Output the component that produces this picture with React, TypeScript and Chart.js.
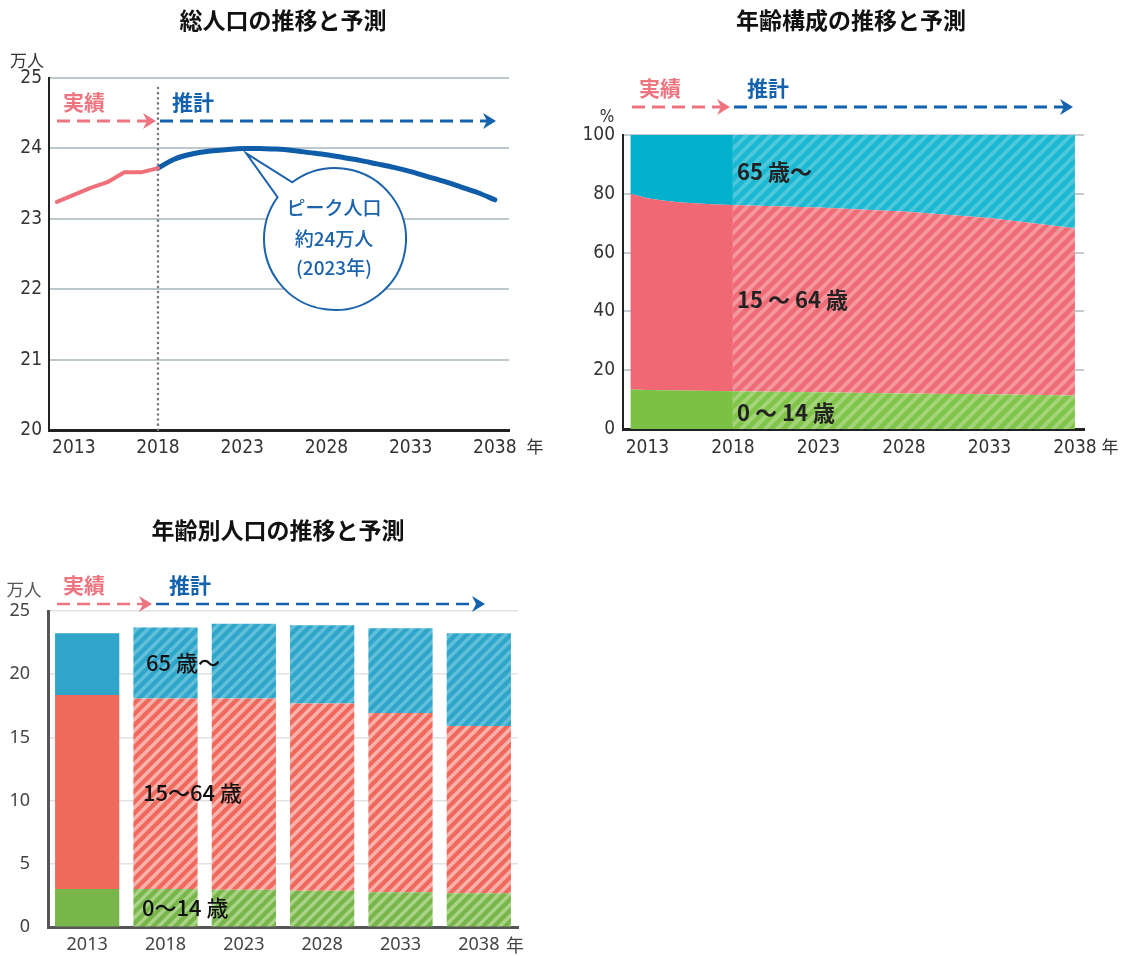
import React, { useEffect, useRef } from 'react';
import { Chart, registerables } from 'chart.js';
Chart.register(...registerables);

// ---------- Chart 1: 総人口の推移と予測 (万人) ----------
const actualYears = [2012, 2013, 2014, 2015, 2016, 2017, 2018];
const actualPop = [23.24, 23.34, 23.44, 23.52, 23.66, 23.66, 23.72];
const projYears = [2018, 2019, 2020, 2021, 2022, 2023, 2024, 2025, 2026, 2027, 2028, 2029, 2030, 2031, 2032, 2033, 2034, 2035, 2036, 2037, 2038];
const projPop = [23.72, 23.85, 23.92, 23.96, 23.98, 24.0, 24.0, 23.99, 23.97, 23.94, 23.91, 23.87, 23.83, 23.78, 23.73, 23.67, 23.6, 23.53, 23.45, 23.37, 23.27];
const tickYears = [2013, 2018, 2023, 2028, 2033, 2038];
const popTicks = [20, 21, 22, 23, 24, 25];

// ---------- Chart 2: 年齢構成の推移と予測 (%) ----------
const shareYears = [2012, 2013, 2014, 2015, 2016, 2017, 2018, 2023, 2028, 2033, 2038];
const shareChild = [13.4, 13.3, 13.2, 13.1, 13.0, 12.9, 12.8, 12.5, 12.1, 11.8, 11.4];
const shareWorking = [66.6, 65.2, 64.4, 63.9, 63.7, 63.5, 63.4, 62.8, 61.9, 60.0, 56.9];
const shareElderly = [20.0, 21.5, 22.4, 23.0, 23.3, 23.6, 23.8, 24.7, 26.0, 28.2, 31.7];

// ---------- Chart 3: 年齢別人口の推移と予測 (万人) ----------
const barYears = ['2013', '2018', '2023', '2028', '2033', '2038'];
const barChild = [3.02, 3.02, 2.97, 2.89, 2.76, 2.68];
const barWorking = [15.33, 15.07, 15.12, 14.8, 14.17, 13.22];
const barElderly = [4.89, 5.6, 5.91, 6.18, 6.7, 7.34];

const NUM = "'Liberation Sans Narrow', 'DejaVu Sans Condensed', 'Noto Sans', sans-serif";
const NUM3 = "'Noto Sans', sans-serif";
const JP = "'Noto Sans CJK JP', 'Noto Sans', sans-serif";

function makePattern(base: string, stripe: string, size = 10, lw = 3) {
  const c = document.createElement('canvas');
  c.width = size;
  c.height = size;
  const g = c.getContext('2d')!;
  g.fillStyle = base;
  g.fillRect(0, 0, size, size);
  g.strokeStyle = stripe;
  g.lineWidth = lw;
  g.beginPath();
  g.moveTo(-1, size + 1);
  g.lineTo(size + 1, -1);
  g.moveTo(-2, 2);
  g.lineTo(2, -2);
  g.moveTo(size - 2, size + 2);
  g.lineTo(size + 2, size - 2);
  g.stroke();
  return g.createPattern(c, 'repeat')!;
}

function txt(ctx: CanvasRenderingContext2D, s: string, x: number, y: number, font: string, color: string, align: CanvasTextAlign = 'center') {
  ctx.save();
  ctx.font = font;
  ctx.fillStyle = color;
  ctx.textAlign = align;
  ctx.textBaseline = 'middle';
  ctx.fillText(s, x, y);
  ctx.restore();
}

function dashedArrow(ctx: CanvasRenderingContext2D, x1: number, x2: number, y: number, color: string, lw = 3, dash = [13, 7]) {
  ctx.save();
  ctx.strokeStyle = color;
  ctx.lineWidth = lw;
  ctx.setLineDash(dash);
  ctx.beginPath();
  ctx.moveTo(x1, y);
  ctx.lineTo(x2 - 8, y);
  ctx.stroke();
  ctx.setLineDash([]);
  ctx.fillStyle = color;
  ctx.beginPath();
  ctx.moveTo(x2, y);
  ctx.lineTo(x2 - 13, y - 8);
  ctx.lineTo(x2 - 9, y);
  ctx.lineTo(x2 - 13, y + 8);
  ctx.closePath();
  ctx.fill();
  ctx.restore();
}

const C1 = { left: 0, top: 0, w: 570, h: 470 };
const C2 = { left: 570, top: 0, w: 557, h: 470 };
const C3 = { left: 0, top: 480, w: 560, h: 476 };

export default function App() {
  const r1 = useRef<HTMLCanvasElement>(null);
  const r2 = useRef<HTMLCanvasElement>(null);
  const r3 = useRef<HTMLCanvasElement>(null);

  useEffect(() => {
    const charts: Chart[] = [];

    // ----- Chart 1 -----
    const p1 = {
      id: 'p1',
      beforeDatasetsDraw(chart: any) {
        const ctx = chart.ctx as CanvasRenderingContext2D;
        const x = chart.scales.x.getPixelForValue(2018);
        ctx.save();
        ctx.strokeStyle = '#777';
        ctx.lineWidth = 2.5;
        ctx.lineCap = 'round';
        ctx.setLineDash([0.1, 5]);
        ctx.beginPath();
        ctx.moveTo(x, 88);
        ctx.lineTo(x, chart.chartArea.bottom);
        ctx.stroke();
        ctx.restore();
      },
      afterDraw(chart: any) {
        const ctx = chart.ctx as CanvasRenderingContext2D;
        txt(ctx, '総人口の推移と予測', 283, 20, `bold 23px ${JP}`, '#111');
        txt(ctx, '万人', 27, 61, `17px ${JP}`, '#333');
        txt(ctx, '年', 535, 447, `17px ${JP}`, '#333');
        txt(ctx, '実績', 84, 102, `bold 21px ${JP}`, '#ee7480');
        txt(ctx, '推計', 193, 102, `bold 21px ${JP}`, '#1462ae');
        dashedArrow(ctx, 57, 156, 121, '#ee7480');
        dashedArrow(ctx, 160, 496, 121, '#1462ae');
        // callout bubble
        const cx = 335, cy = 239, r = 71;
        const a1 = (233 * Math.PI) / 180;
        const a2 = (216 * Math.PI) / 180;
        const tipX = chart.scales.x.getPixelForValue(2023) + 4;
        const tipY = chart.scales.y.getPixelForValue(24) + 5;
        ctx.save();
        ctx.beginPath();
        ctx.arc(cx, cy, r, a1, a2 + 2 * Math.PI, false);
        ctx.lineTo(tipX, tipY);
        ctx.closePath();
        ctx.fillStyle = '#fff';
        ctx.fill();
        ctx.strokeStyle = '#1b63ad';
        ctx.lineWidth = 2;
        ctx.lineJoin = 'miter';
        ctx.stroke();
        ctx.restore();
        txt(ctx, 'ピーク人口', 334, 208, `500 19px ${JP}`, '#1b63ad');
        txt(ctx, '約24万人', 334, 239, `500 19px ${JP}`, '#1b63ad');
        txt(ctx, '(2023年)', 334, 268, `500 19px ${JP}`, '#1b63ad');
      },
    };

    charts.push(
      new Chart(r1.current!, {
        type: 'line',
        data: {
          datasets: [
            {
              data: actualYears.map((x, i) => ({ x, y: actualPop[i] })),
              borderColor: '#ef6f7b',
              borderWidth: 4,
              pointRadius: 0,
              borderCapStyle: 'round',
              borderJoinStyle: 'round',
            },
            {
              data: projYears.map((x, i) => ({ x, y: projPop[i] })),
              borderColor: '#0f5da9',
              borderWidth: 5,
              pointRadius: 0,
              cubicInterpolationMode: 'monotone',
              borderCapStyle: 'round',
            },
          ],
        },
        options: {
          responsive: false,
          animation: false,
          events: [],
          layout: { padding: { left: 0, top: 78, right: 61, bottom: 0 } },
          plugins: { legend: { display: false }, tooltip: { enabled: false } },
          scales: {
            x: {
              type: 'linear',
              min: 2011.53,
              max: 2038.84,
              grid: { display: false, drawTicks: false },
              border: { color: '#222', width: 3 },
              ticks: { font: { family: NUM, size: 19 }, color: '#333', padding: 7, maxRotation: 0, autoSkip: false, callback: (v: any) => String(v) },
              afterBuildTicks: (s: any) => {
                s.ticks = tickYears.map((v) => ({ value: v }));
              },
              afterFit: (s: any) => {
                s.height = 40;
              },
            },
            y: {
              min: 20,
              max: 25,
              grid: { color: '#bcc8cc', lineWidth: 2, drawTicks: false },
              border: { color: '#222', width: 2 },
              ticks: { font: { family: NUM, size: 19 }, color: '#333', padding: 7, stepSize: 1 },
              afterBuildTicks: (s: any) => {
                s.ticks = popTicks.map((v) => ({ value: v }));
              },
              afterFit: (s: any) => {
                s.width = 49;
              },
            },
          },
        },
        plugins: [p1],
      } as any)
    );

    // ----- Chart 2 -----
    const cyanSolid = '#03b1cd';
    const pinkSolid = '#ef6873';
    const greenSolid = '#7bc143';
    const cyanPat = makePattern('#1bb8d2', '#4dc7dc', 12, 4);
    const pinkPat = makePattern('#ef6b76', '#f4979e', 12, 4);
    const greenPat = makePattern('#80c449', '#a3d479', 12, 4);
    const seg = (pat: CanvasPattern) => ({ backgroundColor: (c: any) => (c.p0.parsed.x >= 2018 ? pat : undefined) });

    const p2 = {
      id: 'p2',
      afterDraw(chart: any) {
        const ctx = chart.ctx as CanvasRenderingContext2D;
        ctx.save();
        ctx.translate(-C2.left, -C2.top);
        txt(ctx, '年齢構成の推移と予測', 851, 20, `bold 23px ${JP}`, '#111');
        txt(ctx, '実績', 660, 88, `bold 21px ${JP}`, '#ee7480');
        txt(ctx, '推計', 768, 88, `bold 21px ${JP}`, '#1462ae');
        dashedArrow(ctx, 632, 730, 107, '#ee7480');
        dashedArrow(ctx, 734, 1073, 107, '#1462ae');
        txt(ctx, '%', 607, 118, `17px ${NUM}`, '#333');
        txt(ctx, '年', 1110, 447, `17px ${JP}`, '#333');
        txt(ctx, '65 歳〜', 737, 172, `bold 22px ${JP}`, '#222', 'left');
        txt(ctx, '15 〜 64 歳', 737, 300, `bold 22px ${JP}`, '#222', 'left');
        txt(ctx, '0 〜 14 歳', 737, 413, `bold 22px ${JP}`, '#222', 'left');
        ctx.restore();
      },
    };

    charts.push(
      new Chart(r2.current!, {
        type: 'line',
        data: {
          datasets: [
            {
              data: shareYears.map((x, i) => ({ x, y: shareChild[i] })),
              backgroundColor: greenSolid,
              borderWidth: 0,
              borderColor: 'rgba(0,0,0,0)',
              pointRadius: 0,
              fill: 'origin',
              segment: seg(greenPat),
            },
            {
              data: shareYears.map((x, i) => ({ x, y: shareWorking[i] })),
              backgroundColor: pinkSolid,
              borderWidth: 0,
              borderColor: 'rgba(0,0,0,0)',
              pointRadius: 0,
              fill: '-1',
              segment: seg(pinkPat),
            },
            {
              data: shareYears.map((x, i) => ({ x, y: shareElderly[i] })),
              backgroundColor: cyanSolid,
              borderWidth: 0,
              borderColor: 'rgba(0,0,0,0)',
              pointRadius: 0,
              fill: '-1',
              segment: seg(cyanPat),
            },
          ],
        },
        options: {
          responsive: false,
          animation: false,
          events: [],
          layout: { padding: { left: 0, top: 135, right: 43, bottom: 0 } },
          plugins: { legend: { display: false }, tooltip: { enabled: false } },
          scales: {
            x: {
              type: 'linear',
              min: 2011.57,
              max: 2038.53,
              grid: { display: false, drawTicks: false },
              border: { color: '#222', width: 3 },
              ticks: { font: { family: NUM, size: 19 }, color: '#333', padding: 8, maxRotation: 0, autoSkip: false, callback: (v: any) => String(v) },
              afterBuildTicks: (s: any) => {
                s.ticks = tickYears.map((v) => ({ value: v }));
              },
              afterFit: (s: any) => {
                s.height = 41;
              },
            },
            y: {
              stacked: true,
              min: 0,
              max: 100,
              grid: { color: '#c3ccd0', lineWidth: 2, drawTicks: false },
              border: { color: '#222', width: 2 },
              ticks: { font: { family: NUM, size: 19 }, color: '#333', padding: 8, stepSize: 20 },
              afterFit: (s: any) => {
                s.width = 53;
              },
            },
          },
        },
        plugins: [p2],
      } as any)
    );

    // ----- Chart 3 -----
    const blue3 = '#2fa6c9';
    const pink3 = '#f0695d';
    const green3 = '#78b54a';
    const blue3p = makePattern('#2fa6c9', '#62bfda', 11, 3.5);
    const pink3p = makePattern('#f0695d', '#f8b2ab', 11, 3.5);
    const green3p = makePattern('#78b54a', '#a9d386', 11, 3.5);
    const colors = (solid: string, pat: CanvasPattern) => barYears.map((_, i) => (i === 0 ? solid : pat));

    const p3 = {
      id: 'p3',
      afterDraw(chart: any) {
        const ctx = chart.ctx as CanvasRenderingContext2D;
        ctx.save();
        ctx.translate(-C3.left, -C3.top);
        txt(ctx, '年齢別人口の推移と予測', 278, 530, `bold 23px ${JP}`, '#111');
        txt(ctx, '万人', 24, 589, `17.5px ${JP}`, '#555');
        txt(ctx, '実績', 84, 585, `bold 21px ${JP}`, '#ee7480');
        txt(ctx, '推計', 190, 585, `bold 21px ${JP}`, '#1462ae');
        dashedArrow(ctx, 57, 152, 604, '#ee7480', 2.5);
        dashedArrow(ctx, 156, 485, 604, '#1462ae', 2.5);
        txt(ctx, '年', 515, 945, `18px ${JP}`, '#444');
        txt(ctx, '65 歳〜', 146, 663, `500 22px ${JP}`, '#111', 'left');
        txt(ctx, '15〜64 歳', 143, 793, `500 22px ${JP}`, '#111', 'left');
        txt(ctx, '0〜14 歳', 142, 908, `500 22px ${JP}`, '#111', 'left');
        ctx.restore();
      },
    };

    charts.push(
      new Chart(r3.current!, {
        type: 'bar',
        data: {
          labels: barYears,
          datasets: [
            { data: barChild, backgroundColor: colors(green3, green3p), borderWidth: 0 },
            { data: barWorking, backgroundColor: colors(pink3, pink3p), borderWidth: 0 },
            { data: barElderly, backgroundColor: colors(blue3, blue3p), borderWidth: 0 },
          ],
        },
        options: {
          responsive: false,
          animation: false,
          events: [],
          layout: { padding: { left: 0, top: 131, right: 42, bottom: 0 } },
          plugins: { legend: { display: false }, tooltip: { enabled: false } },
          datasets: { bar: { barPercentage: 0.82, categoryPercentage: 1 } },
          scales: {
            x: {
              stacked: true,
              grid: { display: false, drawTicks: false },
              border: { color: '#555', width: 3 },
              ticks: { font: { family: NUM3, size: 18 }, color: '#444', padding: 7, maxRotation: 0 },
              afterFit: (s: any) => {
                s.height = 28;
              },
            },
            y: {
              stacked: true,
              min: 0,
              max: 25,
              grid: { color: '#e2e2e2', lineWidth: 1.5, drawTicks: false },
              border: { color: '#555', width: 3 },
              ticks: { font: { family: NUM3, size: 18 }, color: '#444', padding: 18, stepSize: 5 },
              afterFit: (s: any) => {
                s.width = 48;
              },
            },
          },
        },
        plugins: [p3],
      } as any)
    );

    return () => charts.forEach((c) => c.destroy());
  }, []);

  const box = (c: { left: number; top: number; w: number; h: number }): React.CSSProperties => ({
    position: 'absolute',
    left: c.left,
    top: c.top,
    width: c.w,
    height: c.h,
  });

  return (
    <div style={{ position: 'absolute', left: 0, top: 0, width: 1127, height: 956, background: '#fff' }}>
      <canvas ref={r1} width={C1.w} height={C1.h} style={box(C1)} />
      <canvas ref={r2} width={C2.w} height={C2.h} style={box(C2)} />
      <canvas ref={r3} width={C3.w} height={C3.h} style={box(C3)} />
    </div>
  );
}
